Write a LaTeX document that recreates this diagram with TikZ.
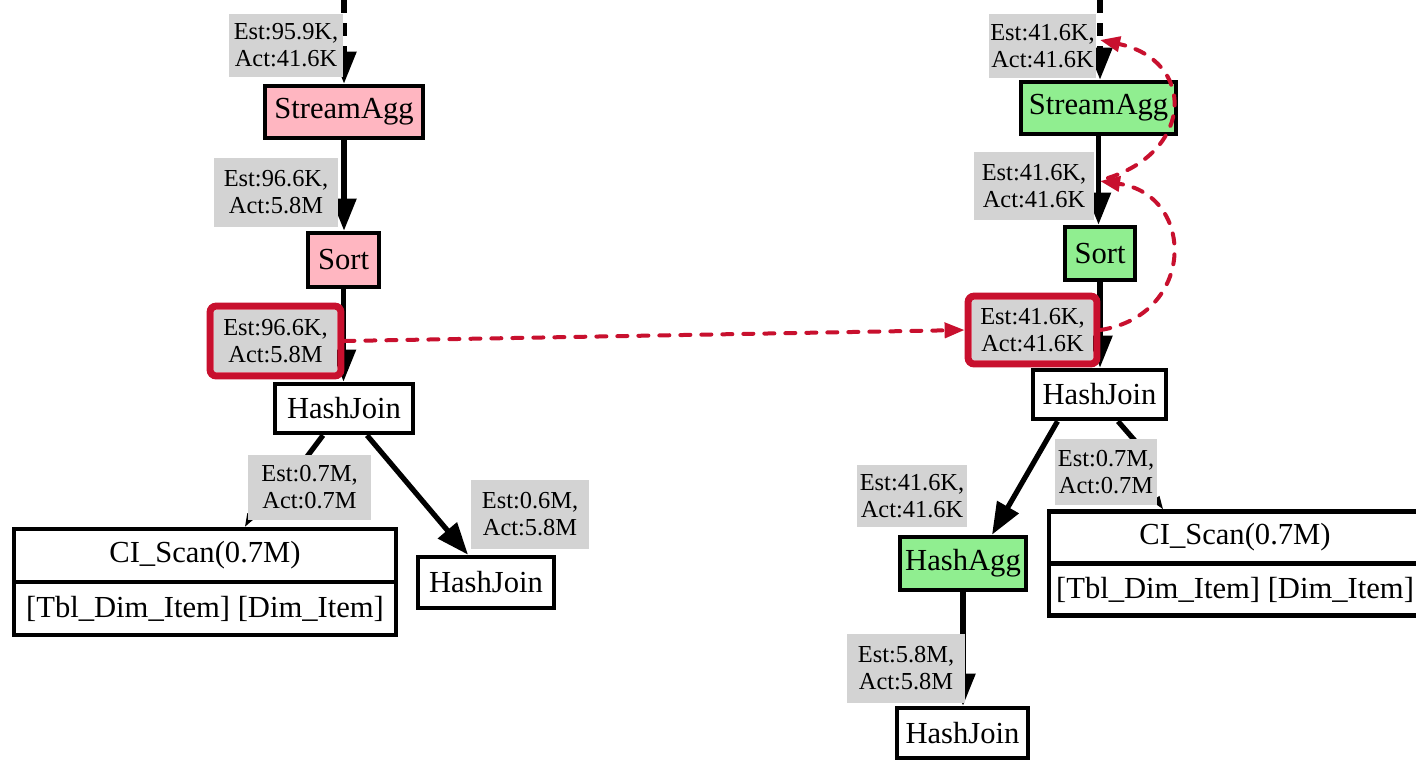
\documentclass[tikz,border=0pt]{standalone}
\usepackage{fontspec}
\setmainfont{Liberation Serif}
\newfontfamily\tnr{Liberation Serif}
\usetikzlibrary{arrows.meta,calc,backgrounds,fit}
\definecolor{pinkfill}{HTML}{FFB6C1}
\definecolor{greenfill}{HTML}{90EE90}
\definecolor{lblgray}{HTML}{D3D3D3}
\definecolor{redhl}{RGB}{200,16,46}
\tikzset{
  opbox/.style={draw=black, line width=2.3pt, fill=white, inner sep=0pt, font=\tnr\fontsize{15.3pt}{18pt}\selectfont},
  pinkbox/.style={opbox, fill=pinkfill},
  greenbox/.style={opbox, fill=greenfill},
  lbl/.style={fill=lblgray, inner sep=0pt, align=center, font=\tnr\fontsize{12.2pt}{13.5pt}\selectfont},
  hlbox/.style={draw=redhl, line width=3.5pt, rounded corners=3pt, inner sep=1.75pt},
  edge/.style={line width=2.6pt, -{Triangle[length=16pt,width=12pt]}},
  plainedge/.style={line width=2.6pt},
  thinedge/.style={line width=0.8pt, -{Triangle[length=6.5pt,width=4.5pt]}},
  topedge/.style={edge, dash pattern=on 6.5pt off 5pt},
  redarrow/.style={draw=redhl, line width=2pt, dash pattern=on 5pt off 5.5pt, line cap=round, -{Triangle[length=10pt,width=7.5pt]}}
}
\begin{document}
\begin{tikzpicture}[x=0.5pt, y=-0.5pt]
\useasboundingbox (0,0) rectangle (1416,761);
\clip (0,0) rectangle (1416,761);

% ---------- left plan ----------
\coordinate (ltop) at (344,0);
\node[pinkbox, minimum width=79pt, minimum height=26pt] (LSA) at (344,112) {StreamAgg};
\node[pinkbox, minimum width=35.5pt, minimum height=27pt] (LSort) at (343.5,260) {Sort};
\node[opbox, minimum width=69pt, minimum height=24.5pt] (LHJ) at (344,408.5) {HashJoin};
\node[opbox, minimum width=191pt, minimum height=26.5pt] (LCIa) at (205,555.5) {CI\_Scan(0.7M)};
\node[opbox, minimum width=191pt, minimum height=26.5pt] (LCIb) at (205,608.5) {[Tbl\_Dim\_Item] [Dim\_Item]};
\node[opbox, minimum width=68pt, minimum height=25.5pt] (LHJ2) at (486,582.5) {HashJoin};

\node[lbl, minimum width=57pt, minimum height=31.5pt] (L1) at (286,45.5) {Est:95.9K,\\Act:41.6K};
\node[lbl, minimum width=62pt, minimum height=34.5pt] (L2) at (276,192.5) {Est:96.6K,\\Act:5.8M};
\node[lbl, minimum width=61.5pt, minimum height=31pt] (L3) at (275.5,341) {Est:96.6K,\\Act:5.8M};
\node[hlbox, fit=(L3)] (L3r) {};
\node[lbl, minimum width=61.5pt, minimum height=32.5pt] (L4) at (309.5,487.5) {Est:0.7M,\\Act:0.7M};
\node[lbl, minimum width=59pt, minimum height=34.5pt] (L5) at (530,514.5) {Est:0.6M,\\Act:5.8M};

% ---------- right plan ----------
\coordinate (rtop) at (1100,0);
\node[greenbox, minimum width=77.5pt, minimum height=26pt] (RSA) at (1098.5,108) {StreamAgg};
\node[greenbox, minimum width=35pt, minimum height=26.5pt] (RSort) at (1100,253.5) {Sort};
\node[opbox, minimum width=66.5pt, minimum height=24.5pt] (RHJ) at (1099.5,394.5) {HashJoin};
\node[greenbox, minimum width=63pt, minimum height=26.5pt] (RHA) at (963,563.5) {HashAgg};
\node[opbox, minimum width=186pt, minimum height=26pt] (RCIa) at (1235,537.5) {CI\_Scan(0.7M)};
\node[opbox, minimum width=186pt, minimum height=26pt] (RCIb) at (1235,589.5) {[Tbl\_Dim\_Item] [Dim\_Item]};
\node[opbox, minimum width=65.5pt, minimum height=25pt] (RHJ2) at (962.5,733) {HashJoin};

\node[lbl, minimum width=53.5pt, minimum height=32pt] (R1) at (1042.5,46) {Est:41.6K,\\Act:41.6K};
\node[lbl, minimum width=60pt, minimum height=34pt] (R2) at (1034,186) {Est:41.6K,\\Act:41.6K};
\node[lbl, minimum width=60.5pt, minimum height=30pt] (R3) at (1032.5,330) {Est:41.6K,\\Act:41.6K};
\node[hlbox, fit=(R3)] (R3r) {};
\node[lbl, minimum width=55pt, minimum height=31pt] (R4) at (912,496) {Est:41.6K,\\Act:41.6K};
\node[lbl, minimum width=51pt, minimum height=33pt] (R5) at (1106,472) {Est:0.7M,\\Act:0.7M};
\node[lbl, minimum width=59pt, minimum height=34.5pt] (R6) at (906,668.5) {Est:5.8M,\\Act:5.8M};

% ---------- edges ----------
\begin{scope}[on background layer]
  \fill[white] (0,0) rectangle (1416,761);
  \draw[topedge] (ltop) -- (ltop |- LSA.north);
  \draw[edge] (LSA.south) -- (LSA.south |- LSort.north);
  \draw[edge] (LSort.south) -- (LSort.south |- LHJ.north);
  \draw[edge] ($(LHJ.south)+(23,0)$) -- ($(LHJ2.north)+(-18,0)$);
  \draw[plainedge] ($(LHJ.south)+(-21,0)$) -- ($(L4.north)+(-10,12)$);
  \draw[thinedge] ($(L4.south)+(-53,-14)$) -- ($(LCIa.north)+(40,0)$);

  \draw[topedge] (rtop) -- (rtop |- RSA.north);
  \draw[edge] (RSA.south) -- (RSA.south |- RSort.north);
  \draw[edge] (RSort.south) -- (RSort.south |- RHJ.north);
  \draw[edge] ($(RHJ.south)+(-42,0)$) -- ($(RHA.north)+(29,0)$);
  \draw[plainedge] ($(RHJ.south)+(18.5,0)$) -- ($(R5.north)+(34,8)$);
  \draw[thinedge] ($(R5.south)+(46,-12)$) -- ($(RCIa.north)+(-72,0)$);
  \draw[edge] (RHA.south) -- (RHA.south |- RHJ2.north);
\end{scope}

% ---------- red highlight arrows ----------
\coordinate (r1pt) at (1100,40);
\coordinate (r2pt) at (1100,181);
\draw[redarrow] (L3r.east) -- (R3r.west);
\draw[redarrow] (R3r.east) .. controls (1196,315) and (1196,195) .. (r2pt);
\draw[redarrow] ($(r2pt)+(8,-3)$) .. controls (1195,150) and (1195,60) .. (r1pt);
\end{tikzpicture}
\end{document}
